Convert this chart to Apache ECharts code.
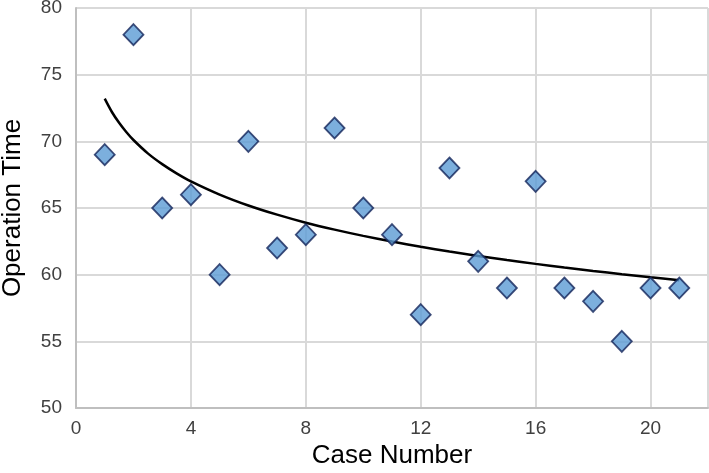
<!DOCTYPE html>
<html>
<head>
<meta charset="utf-8">
<script src="https://cdn.jsdelivr.net/npm/echarts@6/dist/echarts.min.js"></script>
<style>html,body{margin:0;padding:0;background:#fff}#c{width:709px;height:473px}</style>
</head>
<body>
<div id="c"></div>
<script>
const caseNumbers = [1,2,3,4,5,6,7,8,9,10,11,12,13,14,15,16,17,18,19,20,21];
const operationTimes = [69,78,65,66,60,70,62,63,71,65,63,57,68,61,59,67,59,58,55,59,59];
const trendX = [1,1.25,1.5,1.75,2,2.5,3,3.5,4,5,6,7,8,9,10,11,12,13,14,15,16,17,18,19,20,21];
const trendValues = [73.2,72.2,71.39,70.7,70.1,69.1,68.29,67.6,67.0,66.01,65.19,64.5,63.9,63.38,62.91,62.48,62.09,61.73,61.4,61.1,60.81,60.54,60.28,60.04,59.81,59.59];
const xTicks = [0,4,8,12,16,20];
const yTicks = [50,55,60,65,70,75,80];

const chart = echarts.init(document.getElementById('c'));
const font = 'Liberation Sans, Arial, sans-serif';
chart.setOption({
  animation: false,
  grid: {left: 76, top: 8, right: 1, bottom: 65, outerBoundsMode: 'none', containLabel: false},
  xAxis: {
    type: 'value', min: 0, max: 22, interval: 4,
    name: 'Case Number', nameLocation: 'middle', nameGap: 35,
    nameTextStyle: {fontFamily: font, fontSize: 26, color: '#000'},
    axisLine: {show: true, lineStyle: {color: '#bfbfbf', width: 2}},
    axisTick: {show: false},
    axisLabel: {fontFamily: font, fontSize: 19, color: '#404040', margin: 11, showMaxLabel: false,
      formatter: v => xTicks.includes(v) ? String(v) : ''},
    splitLine: {show: true, lineStyle: {color: '#d9d9d9', width: 2}}
  },
  yAxis: {
    type: 'value', min: 50, max: 80, interval: 5,
    name: 'Operation Time', nameLocation: 'middle', nameGap: 50,
    nameTextStyle: {fontFamily: font, fontSize: 26, color: '#000'},
    axisLine: {show: true, lineStyle: {color: '#bfbfbf', width: 2}},
    axisTick: {show: false},
    axisLabel: {fontFamily: font, fontSize: 19, color: '#404040', margin: 14,
      formatter: v => yTicks.includes(v) ? String(v) : ''},
    splitLine: {show: true, lineStyle: {color: '#d9d9d9', width: 2}}
  },
  series: [
    {
      type: 'line',
      data: trendX.map((x, i) => [x, trendValues[i]]),
      smooth: 0.3,
      showSymbol: false,
      lineStyle: {color: '#000', width: 2.5},
      z: 2
    },
    {
      type: 'scatter',
      data: caseNumbers.map((x, i) => [x, operationTimes[i]]),
      symbol: 'diamond',
      symbolSize: [20, 21],
      itemStyle: {color: '#5b9bd5', borderColor: '#13245a', borderWidth: 1.8},
      z: 3
    }
  ]
});
</script>
</body>
</html>
